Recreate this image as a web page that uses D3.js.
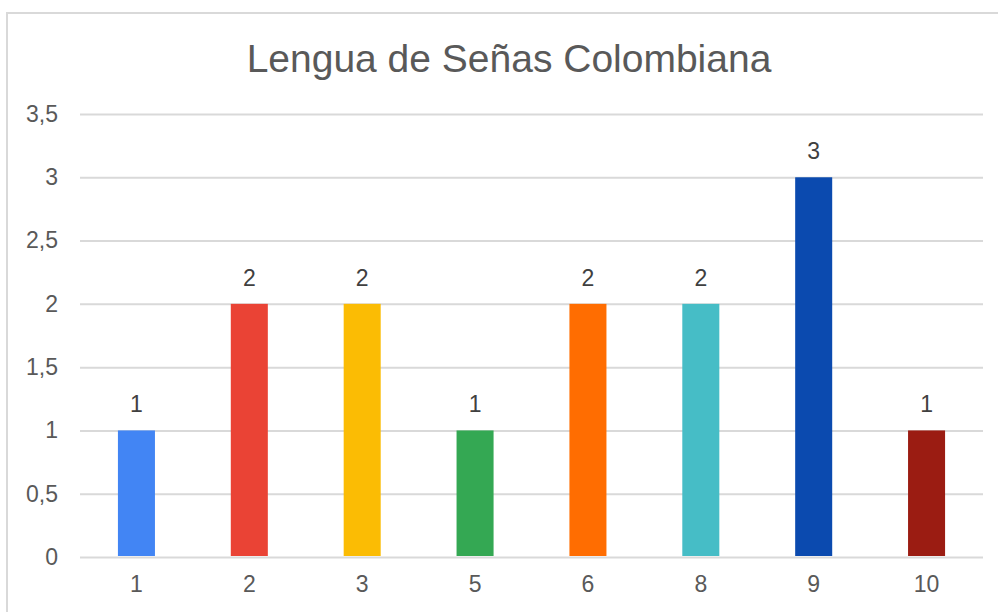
<!DOCTYPE html>
<html>
<head>
<meta charset="utf-8">
<script src="https://cdn.jsdelivr.net/npm/d3@7"></script>
<style>
  body { margin: 0; background: #fff; }
  svg { display: block; font-family: "Liberation Sans", Arial, sans-serif; }
</style>
</head>
<body>
<figure id="bar" style="margin:0"></figure>
<script>
// chart data
const title = "Lengua de Señas Colombiana";
const categories = ["1", "2", "3", "5", "6", "8", "9", "10"];
const values = [1, 2, 2, 1, 2, 2, 3, 1];
const barColors = ["#4285F4", "#EA4335", "#FBBC04", "#34A853", "#FF6D01", "#46BDC6", "#0B4AAF", "#9B1C12"];
const yTicks = [0, 0.5, 1, 1.5, 2, 2.5, 3, 3.5];

const width = 998, height = 612;
const plot = { left: 80, right: 983, top: 114, bottom: 557 };

const svg = d3.select("figure#bar").append("svg")
  .attr("width", width)
  .attr("height", height);

// outer chart border
svg.append("rect")
  .attr("x", 7).attr("y", 13)
  .attr("width", width + 10).attr("height", height + 10)
  .attr("fill", "#fff")
  .attr("stroke", "#d9d9d9")
  .attr("stroke-width", 2);

const x = d3.scaleBand().domain(categories).range([plot.left, plot.right])
  .paddingInner(0.672).paddingOuter(0.336);
const y = d3.scaleLinear().domain([0, 3.5]).range([plot.bottom, plot.top]);

svg.append("text")
  .attr("x", 509).attr("y", 72)
  .attr("text-anchor", "middle")
  .attr("font-size", "39px")
  .attr("fill", "#595959")
  .text(title);

// y axis with gridlines
const yAxis = svg.append("g")
  .attr("transform", `translate(${plot.left},0)`)
  .call(d3.axisLeft(y).tickValues(yTicks)
    .tickSize(-(plot.right - plot.left))
    .tickPadding(22)
    .tickFormat(d => String(d).replace(".", ",")));
yAxis.select(".domain").remove();
yAxis.selectAll("line").attr("stroke", "#d9d9d9").attr("stroke-width", 2);
yAxis.selectAll("text")
  .attr("font-size", "23px")
  .attr("fill", "#595959")
  .attr("font-family", "Liberation Sans, Arial, sans-serif");

// x axis
const xAxis = svg.append("g")
  .attr("transform", `translate(0,${plot.bottom})`)
  .call(d3.axisBottom(x).tickSize(0).tickPadding(19));
xAxis.select(".domain").remove();
xAxis.selectAll("text")
  .attr("font-size", "23px")
  .attr("fill", "#595959")
  .attr("font-family", "Liberation Sans, Arial, sans-serif");

const data = categories.map((c, i) => ({ name: c, score: values[i], color: barColors[i] }));

svg.selectAll("rect.bar").data(data).enter().append("rect")
  .attr("class", "bar")
  .attr("x", d => x(d.name))
  .attr("y", d => y(d.score))
  .attr("width", x.bandwidth())
  .attr("height", d => y(0) - y(d.score) - 1)
  .attr("fill", d => d.color);

svg.selectAll("text.lbl").data(data).enter().append("text")
  .attr("class", "lbl")
  .attr("x", d => x(d.name) + x.bandwidth() / 2)
  .attr("y", d => y(d.score) - 18)
  .attr("text-anchor", "middle")
  .attr("font-size", "23px")
  .attr("fill", "#404040")
  .text(d => d.score);
</script>
</body>
</html>
